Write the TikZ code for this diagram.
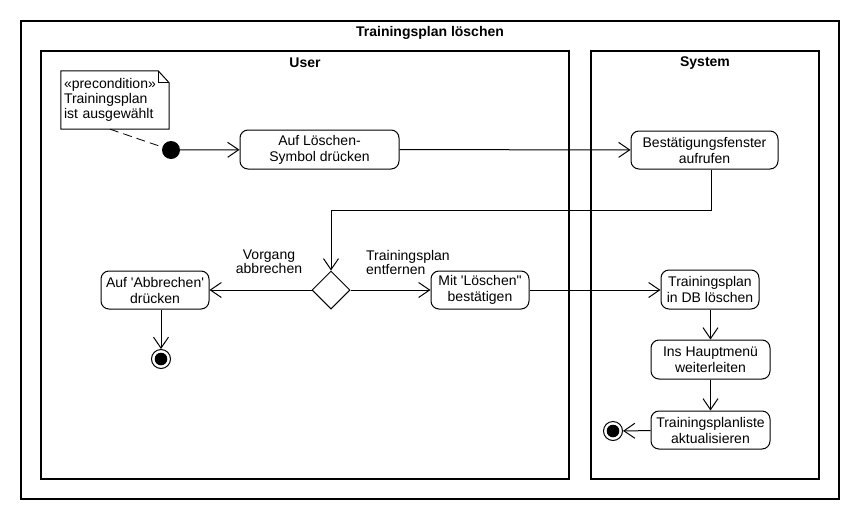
\documentclass[tikz,border=0pt]{standalone}
\usepackage{fontspec}
\setmainfont{Liberation Sans}[Ligatures=TeXOff]
\usetikzlibrary{arrows.meta,shapes.geometric}
\begin{document}
\begin{tikzpicture}[x=1pt,y=-1pt,
  every node/.style={font=\fontsize{14}{16}\selectfont},
  frame/.style={draw, line width=1.2pt, inner sep=0pt},
  ttl/.style={font=\fontsize{14}{16}\selectfont\bfseries},
  act/.style={draw, rounded corners=8pt, line width=1pt, align=center, inner sep=0pt},
  flow/.style={line width=1pt, -{Straight Barb[length=11pt,width=15pt,line width=1pt]}},
  initnode/.style={circle, fill=black, minimum size=18pt, inner sep=0pt},
  finalnode/.style={circle, draw, line width=1pt, minimum size=19pt, inner sep=0pt,
    path picture={\fill[black] (path picture bounding box.center) circle (6.3pt);}},
  decision/.style={diamond, draw, line width=1pt, minimum width=38pt, minimum height=38pt, inner sep=0pt},
  lbl/.style={font=\fontsize{14}{14}\selectfont}
]
\useasboundingbox (0,0) rectangle (860,520);
\fill[white] (0,0) rectangle (860,520);

% frames
\node[frame, minimum width=818pt, minimum height=478pt] (outer) at (430,260) {};
\node[frame, minimum width=528pt, minimum height=428pt] (userlane) at (305,265) {};
\node[frame, minimum width=228pt, minimum height=428pt] (syslane) at (705,265) {};
\node[ttl] (title) at (430,33) {Trainingsplan löschen};
\node[ttl] (usertitle) at (305,63) {User};
\node[ttl] (systitle) at (705,63) {System};

% note
\node[align=left, text width=102pt, inner xsep=3pt, inner ysep=0pt, minimum height=58pt,
  font=\fontsize{14}{15}\selectfont] (note) at (115,100)
  {«precondition»\\Trainingsplan\\ist ausgewählt};
\draw[line width=1pt] (note.north west) -- ([xshift=-11pt]note.north east)
  -- ([yshift=-12pt]note.north east) -- (note.south east) -- (note.south west) -- cycle;
\draw[line width=0.8pt] ([xshift=-11pt]note.north east) -- ([xshift=-11pt,yshift=-12pt]note.north east)
  -- ([yshift=-12pt]note.north east);

% nodes
\node[initnode] (init) at (171,150) {};
\node[act, minimum width=159pt, minimum height=39pt] (a1) at (319.5,149.5) {Auf Löschen-\\Symbol drücken};
\node[act, minimum width=147pt, minimum height=38pt] (a2) at (704.5,150) {Bestätigungsfenster\\aufrufen};
\node[decision] (dec) at (331,290) {};
\node[act, minimum width=108pt, minimum height=38pt] (abr) at (155,290) {Auf 'Abbrechen'\\drücken};
\node[act, minimum width=98pt, minimum height=38pt] (mit) at (480,290) {Mit 'Löschen"\\bestätigen};
\node[act, minimum width=98pt, minimum height=39pt] (db) at (710,289.5) {Trainingsplan\\in DB löschen};
\node[act, minimum width=119pt, minimum height=39pt] (haupt) at (710.5,359.5) {Ins Hauptmenü\\weiterleiten};
\node[act, minimum width=119pt, minimum height=38pt] (liste) at (710.5,430) {Trainingsplanliste\\aktualisieren};
\node[finalnode] (f1) at (161,359) {};
\node[finalnode] (f2) at (613,431) {};

% labels
\node[lbl, align=center] (lab1) at (269,262) {Vorgang\\abbrechen};
\node[lbl, align=left, anchor=west, inner xsep=0pt] (lab2) at (366,262) {Trainingsplan\\entfernen};

% connectors
\coordinate (bend) at (331,210);
\draw[dashed, dash pattern=on 9pt off 5pt, line width=0.8pt] ([xshift=-5pt]note.south) -- (init);
\draw[flow] (init) -- (a1);
\draw[flow] (a1) -- (a2);
\draw[flow] ([xshift=6.5pt]a2.south) |- (bend) -- (dec.north);
\draw[flow] (dec.west) -- (abr.east);
\draw[flow] (dec.east) -- (mit.west);
\draw[flow] (mit.east) -- (db.west |- mit.east);
\draw[flow] (db.south -| haupt.north) -- (haupt.north);
\draw[flow] (haupt) -- (liste);
\draw[flow] (liste) -- (f2);
\draw[flow] ([xshift=6pt]abr.south) -- (f1.north);
\end{tikzpicture}
\end{document}
